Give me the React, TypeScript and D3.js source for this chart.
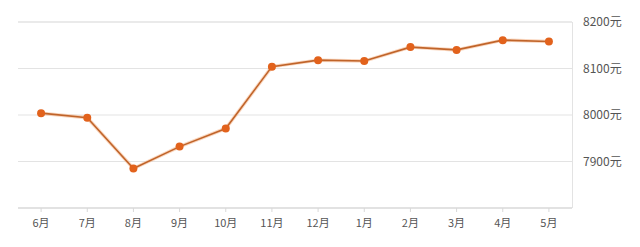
import React from "react";
import * as d3 from "d3";

const months = ["6月", "7月", "8月", "9月", "10月", "11月", "12月", "1月", "2月", "3月", "4月", "5月"];
const prices = [8004, 7994, 7885, 7932, 7971, 8104, 8118, 8116, 8146, 8140, 8161, 8158];
const yTicks = [7900, 8000, 8100, 8200];

const W = 640, H = 247;
const left = 18, right = 572, top = 22, bottom = 208;

export default function App() {
  const x = d3.scaleBand<string>().domain(months).range([left, right]);
  const y = d3.scaleLinear().domain([7800, 8200]).range([bottom, top]);
  const cx = (m: string) => (x(m) as number) + x.bandwidth() / 2;
  const line = d3.line<number>().x((_, i) => cx(months[i])).y((d) => y(d));
  const font = "'Noto Sans CJK SC', 'Noto Sans', sans-serif";
  return (
    <svg width={W} height={H} style={{ position: "absolute", left: 0, top: 0, background: "#fff" }}>
      <rect x={0} y={0} width={W} height={H} fill="#fff" />
      {yTicks.map((t) => (
        <g key={t}>
          <line x1={left} x2={right} y1={y(t)} y2={y(t)} stroke="#e3e3e3" strokeWidth={1} />
          <text x={583} y={y(t)} dy="0.35em" fontSize={12} fill="#555" fontFamily={font}>
            {t}元
          </text>
        </g>
      ))}
      <line x1={left} x2={right} y1={top} y2={top} stroke="#e3e3e3" />
      <line x1={right + 0.5} x2={right + 0.5} y1={top} y2={bottom} stroke="#e3e3e3" />
      <line x1={left} x2={right} y1={bottom} y2={bottom} stroke="#d8d8d8" strokeWidth={1.5} />
      {months.map((m) => (
        <g key={m}>
          <line x1={cx(m)} x2={cx(m)} y1={bottom} y2={bottom + 4} stroke="#d8d8d8" />
          <text x={cx(m)} y={223} dy="0.35em" textAnchor="middle" fontSize={11} fill="#555" fontFamily={font}>
            {m}
          </text>
        </g>
      ))}
      <path d={line(prices) || ""} fill="none" stroke="#f5b080" strokeWidth={3.5} strokeOpacity={0.5} />
      <path d={line(prices) || ""} fill="none" stroke="#c0642a" strokeWidth={1.6} />
      {prices.map((p, i) => (
        <circle key={i} cx={cx(months[i])} cy={y(p)} r={4} fill="#e2621c" />
      ))}
    </svg>
  );
}
